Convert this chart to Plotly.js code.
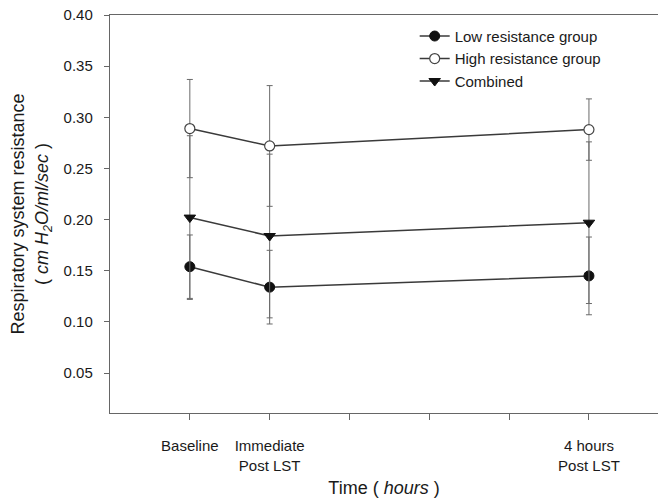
<!DOCTYPE html>
<html>
<head>
<meta charset="utf-8">
<script src="https://cdn.plot.ly/plotly-3.0.1.min.js"></script>
<style>html,body{margin:0;padding:0;background:#fff;}#chart{width:658px;height:503px;}</style>
</head>
<body>
<div id="chart"></div>
<script>
// Time points (x positions in hours-like axis units) and tick labels
const timeVals = [0, 1, 5];
const tickVals = [0, 1, 5];
const tickText = ["Baseline", "Immediate<br>Post LST", "4 hours<br>Post LST"];
const minorTickVals = [2, 3, 4];

// Series means and error bars (SD)
const lowMean = [0.154, 0.134, 0.145];
const lowErr = [0.031, 0.036, 0.038];
const highMean = [0.289, 0.272, 0.288];
const highErr = [0.048, 0.059, 0.030];
const combMean = [0.202, 0.184, 0.197];
const combErr = [0.080, 0.080, 0.079];

const yTicks = [0.05, 0.10, 0.15, 0.20, 0.25, 0.30, 0.35, 0.40];

const FONT = "Arial, 'Liberation Sans', sans-serif";
const lineCol = "#3a3a3a";
const errCol = "#6a6a6a";

function errBar(arr) {
  return {type: "data", array: arr, visible: true, color: errCol, thickness: 1, width: 3};
}

const traces = [
  {
    name: "Low resistance group", x: timeVals, y: lowMean, mode: "lines+markers",
    line: {color: lineCol, width: 1.5},
    marker: {symbol: "circle", size: 10, color: "#111", line: {color: "#111", width: 1}},
    error_y: errBar(lowErr)
  },
  {
    name: "High resistance group", x: timeVals, y: highMean, mode: "lines+markers",
    line: {color: lineCol, width: 1.5},
    marker: {symbol: "circle", size: 10, color: "#fff", line: {color: "#444", width: 1.2}},
    error_y: errBar(highErr)
  },
  {
    name: "Combined", x: timeVals, y: combMean, mode: "lines+markers",
    line: {color: lineCol, width: 1.5},
    marker: {symbol: "triangle-down", size: 10, color: "#111", line: {color: "#111", width: 1}},
    error_y: errBar(combErr)
  }
];

const layout = {
  width: 658, height: 503,
  margin: {l: 110, r: 0, t: 15, b: 90},
  paper_bgcolor: "#fff", plot_bgcolor: "#fff",
  font: {family: FONT, color: "#1a1a1a", size: 15},
  showlegend: true,
  legend: {
    x: 0.556, y: 0.988, xanchor: "left", yanchor: "top",
    bgcolor: "rgba(0,0,0,0)", font: {family: FONT, size: 15, color: "#1a1a1a"},
    tracegroupgap: 0
  },
  xaxis: {
    range: [-1.0, 5.865],
    tickmode: "array", tickvals: tickVals, ticktext: tickText,
    ticks: "outside", ticklen: 6, tickcolor: "#666", tickwidth: 1,
    minor: {tickmode: "array", tickvals: minorTickVals, ticks: "outside", ticklen: 6, tickcolor: "#666", tickwidth: 1, showgrid: false},
    showline: true, linecolor: "#666", linewidth: 1.2, mirror: true,
    showgrid: false, zeroline: false,
    tickfont: {family: FONT, size: 15, color: "#1a1a1a"},
    ticklabelstandoff: 13,
    title: {text: "Time ( <i>hours</i> )", font: {family: FONT, size: 18, color: "#1a1a1a"}, standoff: 8}
  },
  yaxis: {
    range: [0.011, 0.40],
    tickmode: "array", tickvals: yTicks, tickformat: ".2f",
    ticks: "outside", ticklen: 5, tickcolor: "#666", tickwidth: 1,
    showline: true, linecolor: "#666", linewidth: 1.2, mirror: false,
    showgrid: false, zeroline: false,
    tickfont: {family: FONT, size: 15, color: "#1a1a1a"},
    ticklabelstandoff: 8,
    title: {text: "Respiratory system resistance<br>( <i>cm H<sub>2</sub>O/ml/sec</i> )", font: {family: FONT, size: 18, color: "#1a1a1a"}, standoff: 10}
  }
};

Plotly.newPlot("chart", traces, layout, {displayModeBar: false, staticPlot: true});
</script>
</body>
</html>
